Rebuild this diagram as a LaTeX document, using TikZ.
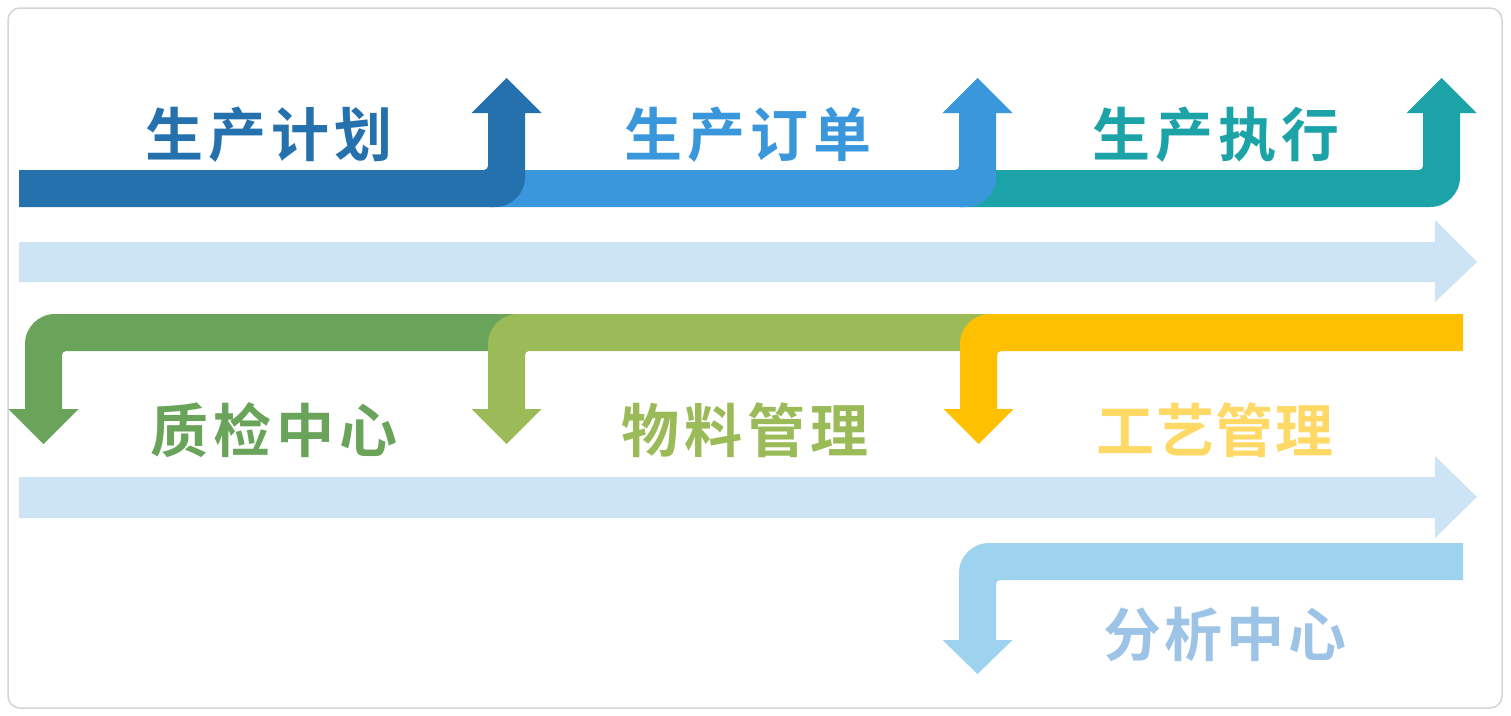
\documentclass[tikz,border=0pt]{standalone}
\usepackage{fontspec}
\newfontfamily\cjk{Noto Sans CJK SC}[BoldFont={Noto Sans CJK SC Bold}]
\definecolor{cDark}{HTML}{2471AE}
\definecolor{cMed}{HTML}{3A97DC}
\definecolor{cTeal}{HTML}{1CA3A8}
\definecolor{cGreen}{HTML}{6AA45A}
\definecolor{cOlive}{HTML}{9BBB59}
\definecolor{cYellow}{HTML}{FFC000}
\definecolor{cSky}{HTML}{9DD3EF}
\definecolor{cLight}{HTML}{CDE4F5}
\definecolor{tYellow}{HTML}{FFD966}
\definecolor{tSky}{HTML}{9DC3E6}
\definecolor{cFrame}{HTML}{D4D4D4}
\newcommand{\fourch}[5]{#2\kern#1pt#3\kern#1pt#4\kern#1pt#5}
\tikzset{
  lbl/.style={font=\cjk\bfseries\fontsize{58}{62}\selectfont, inner sep=0pt, anchor=center},
}
\begin{document}
\begin{tikzpicture}[x=1pt,y=-1pt]
\useasboundingbox (0,0) rectangle (1511,715);
\fill[white] (0,0) rectangle (1511,715);
\draw[cFrame, line width=1.5pt, rounded corners=12pt] (8,8) rectangle (1502,708);

% light big arrows
\fill[cLight] (19,242) -- (1435,242) -- (1435,220) -- (1477,262) -- (1435,302) -- (1435,282) -- (19,282) -- cycle;
\fill[cLight] (19,477) -- (1435,477) -- (1435,456) -- (1477,497) -- (1435,538) -- (1435,518) -- (19,518) -- cycle;

% top row: up arrows (draw right to left)
\foreach \xs/\xl/\xr/\col in {960/1423/1460/cTeal, 490/959/996/cMed, 19/488/525/cDark}{
  \pgfmathsetmacro{\xc}{(\xl+\xr)/2}
  \fill[\col] (\xs,170) -- ({\xl-4},170) .. controls ({\xl-1.8},170) and (\xl,168.2) .. (\xl,166)
    -- (\xl,113) -- ({\xc-35},113) -- (\xc,78) -- ({\xc+35},113) -- (\xr,113)
    -- (\xr,177) .. controls (\xr,193.6) and ({\xr-13.4},207) .. ({\xr-30},207)
    -- (\xs,207) -- cycle;
}

% middle row: down arrows (draw left to right)
\foreach \xe/\xl/\xr/\col in {520/25/62/cGreen, 990/488/525/cOlive, 1463/960/997/cYellow}{
  \pgfmathsetmacro{\xc}{(\xl+\xr)/2}
  \fill[\col] (\xe,314) -- ({\xl+30},314) .. controls ({\xl+13.4},314) and (\xl,327.4) .. (\xl,344)
    -- (\xl,409) -- ({\xc-35},409) -- (\xc,444) -- ({\xc+35},409) -- (\xr,409)
    -- (\xr,355) .. controls (\xr,352.8) and ({\xr+1.8},351) .. ({\xr+4},351)
    -- (\xe,351) -- cycle;
}

% bottom down arrow
\fill[cSky] (1463,543) -- (989,543) .. controls (972.4,543) and (959,556.4) .. (959,573)
  -- (959,640) -- (942.5,640) -- (977.5,674) -- (1012.5,640) -- (996,640)
  -- (996,584) .. controls (996,581.8) and (997.8,580) .. (1000,580)
  -- (1463,580) -- cycle;

% labels
\node[lbl, text=cDark] (plan) at (269,135) {\fourch{5}{生}{产}{计}{划}};
\node[lbl, text=cMed] (order) at (748,135) {\fourch{5}{生}{产}{订}{单}};
\node[lbl, text=cTeal] (exec) at (1216,135) {\fourch{5}{生}{产}{执}{行}};
\node[lbl, text=cGreen] (qc) at (274,430) {\fourch{5}{质}{检}{中}{心}};
\node[lbl, text=cOlive] (mat) at (745,430) {\fourch{5}{物}{料}{管}{理}};
\node[lbl, text=tYellow] (proc) at (1215,430) {\fourch{1.5}{工}{艺}{管}{理}};
\node[lbl, text=tSky] (ana) at (1225,635) {\fourch{4}{分}{析}{中}{心}};
\end{tikzpicture}
\end{document}
